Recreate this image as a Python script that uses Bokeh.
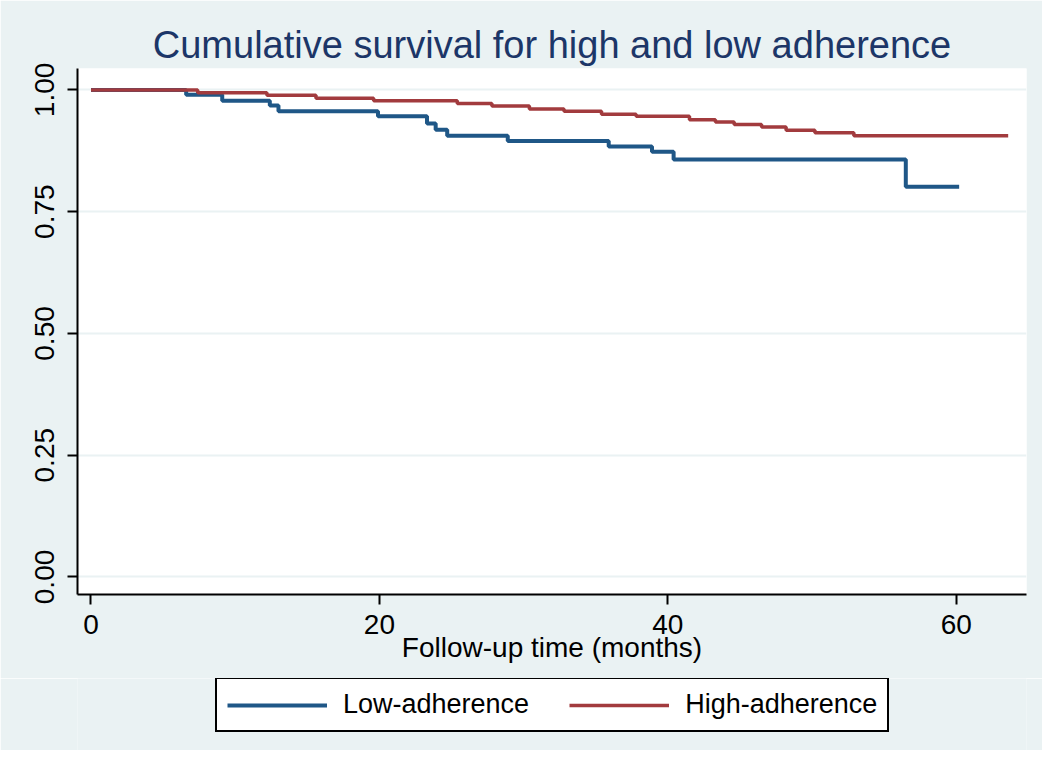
from bokeh.plotting import figure
from bokeh.layouts import column
from bokeh.models import Range1d, FixedTicker, Legend, LegendItem, NumeralTickFormatter
from bokeh.embed import file_html
from bokeh.resources import INLINE

# Kaplan-Meier estimates (time in months, survival)
low_time = [0, 6.6, 9.1, 12.4, 13.0, 19.9, 23.3, 23.9, 24.7, 28.9, 35.9, 38.9, 40.4, 56.5, 60.2]
low_surv = [1.0, 0.990, 0.978, 0.968, 0.956, 0.946, 0.931, 0.918, 0.906, 0.895, 0.884, 0.873, 0.857, 0.801, 0.801]

high_time = [0, 7.4, 12.2, 15.6, 19.6, 25.4, 27.8, 30.4, 32.8, 35.4, 37.8, 41.5, 43.3, 44.6, 46.5, 48.2, 50.2, 52.9, 63.6]
high_surv = [1.0, 0.994, 0.989, 0.983, 0.978, 0.972, 0.967, 0.961, 0.956, 0.950, 0.946, 0.939, 0.934, 0.929, 0.924, 0.917, 0.912, 0.906, 0.906]

x_ticks = [0, 20, 40, 60]
y_ticks = [0, 0.25, 0.5, 0.75, 1.0]

title_text = "Cumulative survival for high and low adherence"
x_label = "Follow-up time (months)"
series_names = ["Low-adherence", "High-adherence"]

BG = "#eaf2f3"
BLUE = "#1f5787"
RED = "#a23b3e"
FONT = "Liberation Sans"

p = figure(width=1042, height=678, output_backend="svg", toolbar_location=None,
           x_range=Range1d(-0.936, 64.87), y_range=Range1d(-0.036, 1.044),
           min_border_left=77, min_border_right=16, min_border_top=68, min_border_bottom=84)

p.background_fill_color = "white"
p.border_fill_color = BG
p.outline_line_color = None

p.title.text = title_text
p.title.align = "center"
p.title.text_font = FONT
p.title.text_font_size = "38px"
p.title.text_font_style = "normal"
p.title.text_color = "#1c3668"
p.title.standoff = 6

r_low = p.step(low_time, low_surv, mode="after", line_color=BLUE, line_width=4)
r_high = p.step(high_time, high_surv, mode="after", line_color=RED, line_width=3.5)

p.xgrid.visible = False
p.ygrid.grid_line_color = BG
p.ygrid.grid_line_width = 2

for ax in (p.xaxis[0], p.yaxis[0]):
    ax.axis_line_width = 2
    ax.axis_line_color = "black"
    ax.major_tick_line_width = 2
    ax.major_tick_line_color = "black"
    ax.major_tick_out = 10
    ax.major_tick_in = 0
    ax.minor_tick_line_color = None
    ax.major_label_text_font = FONT
    ax.major_label_text_font_size = "28px"
    ax.major_label_text_color = "black"

p.xaxis.ticker = FixedTicker(ticks=x_ticks)
p.yaxis.ticker = FixedTicker(ticks=y_ticks)
p.yaxis.formatter = NumeralTickFormatter(format="0.00")
p.yaxis.major_label_orientation = "vertical"
p.yaxis.major_label_standoff = 13
p.xaxis.major_label_standoff = 10

p.xaxis.axis_label = x_label
p.xaxis.axis_label_text_font = FONT
p.xaxis.axis_label_text_font_size = "28px"
p.xaxis.axis_label_text_font_style = "normal"
p.xaxis.axis_label_text_color = "black"
p.xaxis.axis_label_standoff = -5

# Legend strip below the chart (separate figure so the legend is not clipped).
# Its ranges are set away from the data so the key lines themselves stay out of view.
lg = figure(width=1042, height=72, output_backend="svg", toolbar_location=None,
            x_range=Range1d(1000, 1001), y_range=Range1d(1000, 1001),
            x_axis_type=None, y_axis_type=None,
            min_border_left=77, min_border_right=16, min_border_top=0, min_border_bottom=0)
lg.background_fill_color = BG
lg.border_fill_color = BG
lg.outline_line_color = None
lg.xgrid.visible = False
lg.ygrid.visible = False
k_low = lg.line(low_time, low_surv, line_color=BLUE, line_width=4)
k_high = lg.line(high_time, high_surv, line_color=RED, line_width=3.5)

legend = Legend(items=[LegendItem(label=series_names[0], renderers=[k_low]),
                       LegendItem(label=series_names[1], renderers=[k_high])],
                location=(138, 18), orientation="horizontal")
legend.border_line_color = "black"
legend.border_line_width = 2
legend.border_line_alpha = 1
legend.background_fill_color = "white"
legend.background_fill_alpha = 1
legend.label_text_font = FONT
legend.label_text_font_size = "27px"
legend.label_text_color = "black"
legend.glyph_width = 100
legend.glyph_height = 20
legend.label_standoff = 16
legend.spacing = 40
legend.padding = 10
legend.margin = 0
lg.add_layout(legend, "center")

layout = column(p, lg, spacing=0)
open("out.html", "w").write(file_html(layout, INLINE))
